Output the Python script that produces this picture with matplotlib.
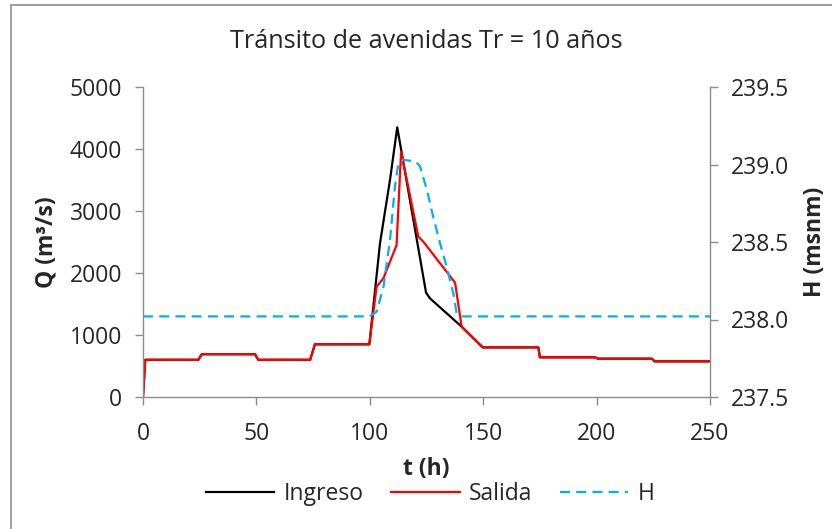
import matplotlib
matplotlib.use("Agg")
import matplotlib.pyplot as plt
from matplotlib.patches import Rectangle

plt.rcParams['font.family'] = ['Open Sans', 'DejaVu Sans']

title = "Tránsito de avenidas Tr = 10 años"

t_in = [0, 1, 24.4, 25.9, 49.4, 50.8, 73.7, 75.8, 99.8, 104.5, 108.9, 112.1,
        124.8, 126.5, 140.5, 149.8, 174.3, 175, 199.3, 200.6, 224.3, 225.7, 250]
q_in = [0, 600, 600, 690, 690, 600, 600, 850, 850, 2480, 3500, 4350,
        1683, 1592, 1134, 800, 800, 640, 640, 618, 618, 575, 575]

t_out = [0, 1, 24.4, 25.9, 49.4, 50.8, 73.7, 75.8, 99.8, 103.0, 106.0, 111.8,
         113.8, 121.4, 123.6, 137.6, 140.5, 149.8, 174.3, 175, 199.3, 200.6,
         224.3, 225.7, 250]
q_out = [0, 600, 600, 690, 690, 600, 600, 850, 850, 1780, 1914, 2450,
         3957, 2586, 2505, 1844, 1134, 800, 800, 640, 640, 618, 618, 575, 575]

t_h = [0, 100, 100.8, 103, 106, 108.9, 111.1, 112.6, 114.8, 120, 122.1, 125.1,
       128, 131, 133.9, 136.8, 138.3, 141, 250]
h_vals = [238.02, 238.02, 238.03, 238.05, 238.21, 238.51, 238.86, 239.01, 239.03,
          239.02, 238.99, 238.84, 238.66, 238.49, 238.34, 238.17, 238.04, 238.02, 238.02]

x_ticks = [0, 50, 100, 150, 200, 250]
q_ticks = [0, 1000, 2000, 3000, 4000, 5000]
h_ticks = [237.5, 238.0, 238.5, 239.0, 239.5]

W, H = 832, 529
fig = plt.figure(figsize=(W / 100, H / 100), dpi=100)
ax = fig.add_axes([143 / W, 1 - 397 / H, (710 - 143) / W, (397 - 87) / H])
ax2 = ax.twinx()

# figure border
fig.patches.append(Rectangle((11 / W, -0.02), 1.05, 1 - 5 / H + 0.02,
                             transform=fig.transFigure, fill=False,
                             edgecolor='#8c8c8c', linewidth=1.2))

fs = 16.5
tc = '#262626'
sc = '#8c8c8c'

l1, = ax.plot(t_in, q_in, color='black', lw=1.6, label='Ingreso')
l2, = ax.plot(t_out, q_out, color='#ff0000', lw=1.6, label='Salida')
l3, = ax2.plot(t_h, h_vals, color='#00b0f0', lw=1.6, dashes=(4.5, 2.8), label='H')

ax.set_xlim(0, 250)
ax.set_ylim(0, 5000)
ax2.set_ylim(237.5, 239.5)
ax.set_xticks(x_ticks)
ax.set_yticks(q_ticks)
ax2.set_yticks(h_ticks)
ax2.set_yticklabels([f"{v:.1f}" for v in h_ticks])

for a in (ax, ax2):
    for s in a.spines.values():
        s.set_color(sc)
        s.set_linewidth(1.0)
    a.spines['top'].set_visible(False)
    a.tick_params(colors=sc, labelcolor=tc, labelsize=fs, length=6, width=1.0, pad=9)
ax.tick_params(axis='x', pad=12)
ax2.spines['left'].set_visible(False)
ax2.spines['bottom'].set_visible(False)
ax.spines['right'].set_visible(False)

ax.set_xlabel('t (h)', fontsize=fs, fontweight='bold', color=tc, labelpad=8)
ax.set_ylabel('Q (m³/s)', fontsize=fs, fontweight='bold', color=tc, labelpad=8)
ax2.set_ylabel('H (msnm)', fontsize=fs, fontweight='bold', color=tc, labelpad=10)

fig.text(426 / W, 1 - 42 / H, title, ha='center', va='center', fontsize=18.2, color=tc)

fig.legend(handles=[l1, l2, l3], loc='center', bbox_to_anchor=(430 / W, 1 - 494 / H),
           ncol=3, frameon=False, fontsize=fs, handlelength=3.0, columnspacing=1.2,
           handletextpad=0.4, labelcolor=tc)

fig.savefig('out.png', dpi=100)
